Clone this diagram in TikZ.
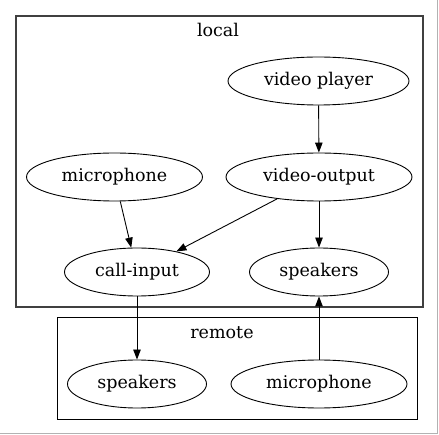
\documentclass[tikz,border=0pt]{standalone}
\usepackage{fontspec}
\setmainfont{DejaVu Serif}
\usetikzlibrary{arrows.meta, shapes.geometric, positioning}

\begin{document}
\begin{tikzpicture}[x=1pt,y=-1pt,
	devstyle/.style={
		draw,ellipse,inner sep=0pt,minimum height=48pt,line width=0.9pt,font=\fontsize{17.5}{20}\selectfont
	},
	flow/.style={-{Triangle[length=10pt,width=7.5pt]},line width=0.9pt},
	clusterstyle/.style={draw,line width=1.2pt}
]
	\useasboundingbox (0,0) rectangle (439,435);
	\draw[gray!60,line width=1pt] (437.5,0) -- (437.5,433.5) -- (0,433.5);

	% local side
	\draw[clusterstyle,black!75] (16,16) rectangle (423,307);
	\node[font=\fontsize{17.5}{20}\selectfont] at (218,30) (locallbl) {local};

	\node[devstyle,minimum width=181pt] at (318.5,81) (player) {video player};
	\node[devstyle,minimum width=186pt] at (319,177) (vidout) {video-output};
	\node[devstyle,minimum width=176pt] at (114.5,177) (mic0) {microphone};
	\node[devstyle,minimum width=145pt] at (137,272) (callin) {call-input};
	\node[devstyle,minimum width=139pt] at (319,272) (spk0) {speakers};

	% remote side
	\draw[clusterstyle,line width=1pt] (57,318) rectangle (417,419);
	\node[font=\fontsize{17.5}{20}\selectfont] at (222,333) (remotelbl) {remote};

	\node[devstyle,minimum width=139pt] at (137,384) (spk1) {speakers};
	\node[devstyle,minimum width=176pt] at (319,384) (mic1) {microphone};

	\draw[flow] (player) -- (vidout);
	\draw[flow] (vidout) -- (spk0);
	\draw[flow] (vidout) -- (callin);
	\draw[flow] (mic0) -- (callin);
	\draw[flow] (callin) -- (spk1);
	\draw[flow] (mic1) -- (spk0);
\end{tikzpicture}
\end{document}
